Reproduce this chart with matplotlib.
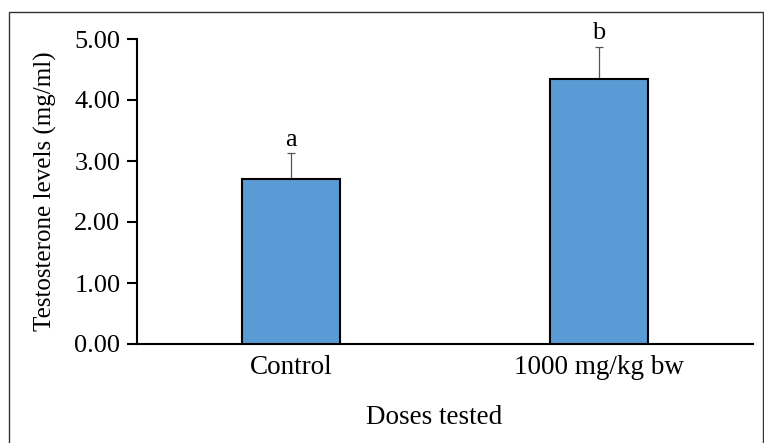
import matplotlib
matplotlib.use("Agg")
import matplotlib.pyplot as plt
from matplotlib.patches import Rectangle

categories = ["Control", "1000 mg/kg bw"]
values = [2.70, 4.34]
errors = [0.43, 0.53]
letters = ["a", "b"]
yticks = [0, 1, 2, 3, 4, 5]

plt.rcParams['font.family'] = ['Liberation Serif', 'DejaVu Serif']

fig = plt.figure(figsize=(7.64, 4.43), dpi=100)
W, H = 764, 443
ax = fig.add_axes([137 / W, (H - 344) / H, (753 - 137) / W, (344 - 39) / H])

x = list(range(len(categories)))
ax.bar(x, values, width=0.315, color="#5B9BD5", edgecolor="black", linewidth=1.5, zorder=3)
ax.errorbar(x, values, yerr=[[0] * len(errors), errors], fmt="none", ecolor="#555555",
            elinewidth=0.9, capsize=3, capthick=0.9, zorder=2)
for xi, v, e, l in zip(x, values, errors, letters):
    ax.text(xi, v + e + 0.04, l, ha="center", va="bottom", fontsize=19, clip_on=False)

ax.set_xlim(-0.5, 1.5)
ax.set_ylim(0, 5)
ax.set_yticks(yticks)
ax.set_yticklabels([f"{t:.2f}" for t in yticks], fontsize=19)
ax.set_xticks(x)
ax.set_xticklabels(categories, fontsize=19.5)
ax.tick_params(axis="x", length=0, pad=8)
ax.tick_params(axis="y", length=7, width=1.5, direction="out", pad=5)
for s in ["top", "right"]:
    ax.spines[s].set_visible(False)
for s in ["left", "bottom"]:
    ax.spines[s].set_linewidth(1.5)
fig.text(45 / W, 1 - 191 / H, "Testosterone levels (mg/ml)", rotation=90,
         ha="center", va="center", fontsize=18)
fig.text(434 / W, 1 - 417 / H, "Doses tested", ha="center", va="center", fontsize=19.5)

fig.patches.append(Rectangle((9 / W, -0.01), (763 - 9) / W, 1 - 12 / H + 0.01,
                             transform=fig.transFigure, fill=False,
                             edgecolor="#333333", linewidth=1.0))

fig.savefig("out.png", dpi=100)
